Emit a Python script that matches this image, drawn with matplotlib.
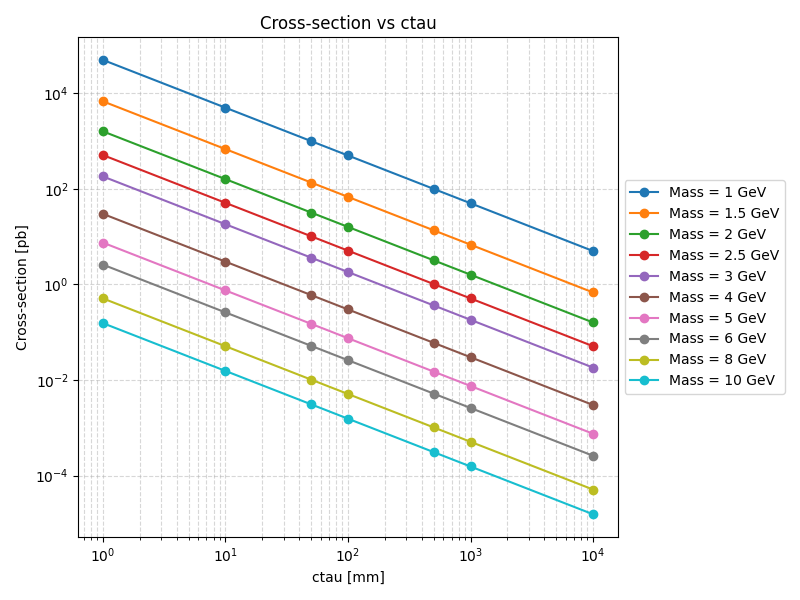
import matplotlib
matplotlib.use("Agg")
import matplotlib.pyplot as plt

ctau = [1, 10, 50, 100, 500, 1000, 10000]
masses = ["1", "1.5", "2", "2.5", "3", "4", "5", "6", "8", "10"]

xsec_m1 = [5.0e4, 5.0e3, 1.0e3, 5.0e2, 1.0e2, 5.0e1, 5.0]
xsec_m1_5 = [6.8e3, 6.8e2, 1.36e2, 6.8e1, 1.36e1, 6.8, 6.8e-1]
xsec_m2 = [1.6e3, 1.6e2, 3.2e1, 1.6e1, 3.2, 1.6, 1.6e-1]
xsec_m2_5 = [5.1e2, 5.1e1, 1.02e1, 5.1, 1.02, 5.1e-1, 5.1e-2]
xsec_m3 = [1.82e2, 1.82e1, 3.64, 1.82, 3.64e-1, 1.82e-1, 1.82e-2]
xsec_m4 = [3.0e1, 3.0, 6.0e-1, 3.0e-1, 6.0e-2, 3.0e-2, 3.0e-3]
xsec_m5 = [7.5, 7.5e-1, 1.5e-1, 7.5e-2, 1.5e-2, 7.5e-3, 7.5e-4]
xsec_m6 = [2.6, 2.6e-1, 5.2e-2, 2.6e-2, 5.2e-3, 2.6e-3, 2.6e-4]
xsec_m8 = [5.1e-1, 5.1e-2, 1.02e-2, 5.1e-3, 1.02e-3, 5.1e-4, 5.1e-5]
xsec_m10 = [1.55e-1, 1.55e-2, 3.1e-3, 1.55e-3, 3.1e-4, 1.55e-4, 1.55e-5]

series = [xsec_m1, xsec_m1_5, xsec_m2, xsec_m2_5, xsec_m3,
          xsec_m4, xsec_m5, xsec_m6, xsec_m8, xsec_m10]

fig, ax = plt.subplots(figsize=(8, 6), dpi=100)
for m, ys in zip(masses, series):
    ax.plot(ctau, ys, marker='o', label=f"Mass = {m} GeV")

ax.set_xscale('log')
ax.set_yscale('log')
ax.set_xlabel('ctau [mm]')
ax.set_ylabel('Cross-section [pb]')
ax.set_title('Cross-section vs ctau')
ax.grid(True, which='both', ls='--', alpha=0.5)
ax.legend(loc='center left', bbox_to_anchor=(1, 0.5))
fig.subplots_adjust(left=0.098, right=0.772, top=0.938, bottom=0.105)
fig.savefig('out.png')
